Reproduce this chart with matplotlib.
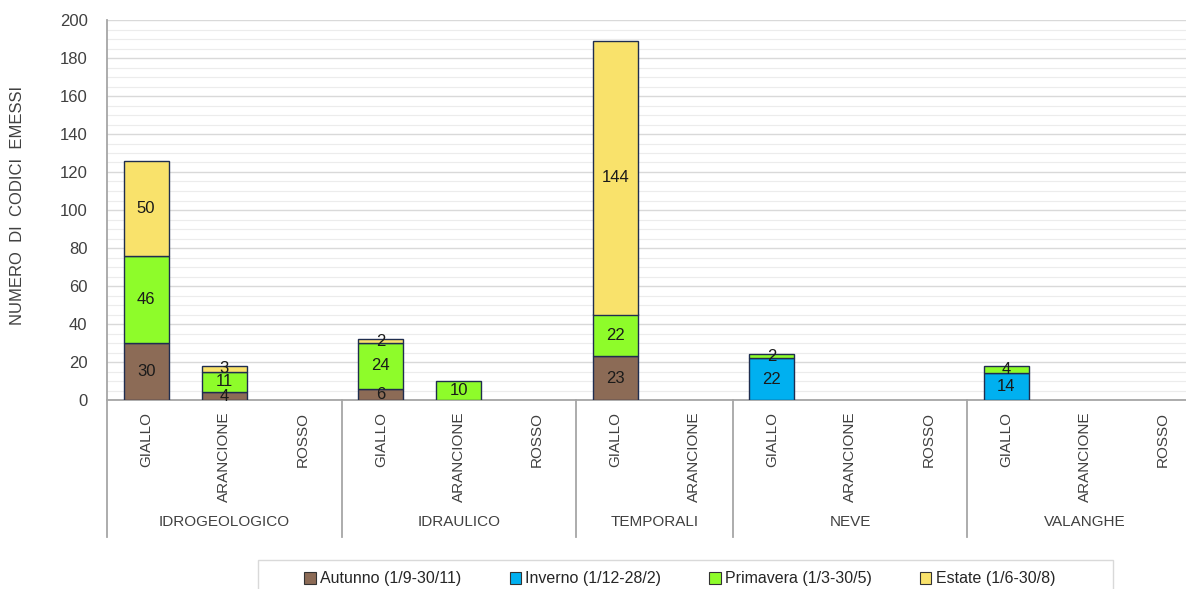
import matplotlib
matplotlib.use("Agg")
import matplotlib.pyplot as plt
from matplotlib.patches import Patch, Rectangle
from matplotlib.lines import Line2D
import numpy as np

plt.rcParams['font.family'] = ['Liberation Sans Narrow', 'Liberation Sans', 'DejaVu Sans']

groups = ["IDROGEOLOGICO", "IDRAULICO", "TEMPORALI", "NEVE", "VALANGHE"]
group_levels = [["GIALLO", "ARANCIONE", "ROSSO"],
                ["GIALLO", "ARANCIONE", "ROSSO"],
                ["GIALLO", "ARANCIONE"],
                ["GIALLO", "ARANCIONE", "ROSSO"],
                ["GIALLO", "ARANCIONE", "ROSSO"]]

series_names = ["Autunno (1/9-30/11)", "Inverno (1/12-28/2)",
                "Primavera (1/3-30/5)", "Estate (1/6-30/8)"]
autunno   = [30, 4, 0, 6, 0, 0, 23, 0, 0, 0, 0, 0, 0, 0]
inverno   = [0, 0, 0, 0, 0, 0, 0, 0, 22, 0, 0, 14, 0, 0]
primavera = [46, 11, 0, 24, 10, 0, 22, 0, 2, 0, 0, 4, 0, 0]
estate    = [50, 3, 0, 2, 0, 0, 144, 0, 0, 0, 0, 0, 0, 0]
colors = ["#8c6b56", "#00b0f0", "#8efc2a", "#f9e26b"]

series = [autunno, inverno, primavera, estate]
labels = [l for g in group_levels for l in g]
n = len(labels)
x = np.arange(n)

W, H = 1186, 589
fig = plt.figure(figsize=(W / 100, H / 100), dpi=100)
left = 107 / W
right = 1202 / W
bottom = 1 - 400 / H
top = 1 - 20 / H
ax = fig.add_axes([left, bottom, right - left, top - bottom])

ax.set_xlim(-0.5, n - 0.5)
ax.set_ylim(0, 200)

# gridlines
for v in np.arange(0, 201, 5):
    if v % 20 == 0:
        ax.axhline(v, color="#d9d9d9", lw=1.0, zorder=0)
    else:
        ax.axhline(v, color="#ececec", lw=0.8, zorder=0)

bottoms = np.zeros(n)
for vals, col in zip(series, colors):
    vals = np.array(vals, dtype=float)
    m = vals > 0
    ax.bar(x[m], vals[m], width=0.575, bottom=bottoms[m], color=col,
           edgecolor="#1f2d4f", linewidth=1.0, zorder=3)
    for i, v in enumerate(vals):
        if v > 0:
            ax.text(x[i], bottoms[i] + v / 2, f"{int(v)}", ha="center", va="center",
                    fontsize=12, color="#1a1a1a", zorder=4)
    bottoms += vals

ax.set_yticks(np.arange(0, 201, 20))
ax.tick_params(axis="y", length=0, labelsize=12, labelcolor="#404040", pad=14)
ax.set_xticks([])
for s in ["top", "right", "left"]:
    ax.spines[s].set_visible(False)
ax.spines["bottom"].set_color("#a6a6a6")
ax.spines["bottom"].set_linewidth(1.3)

# category labels and group separators
trans = ax.get_xaxis_transform()
y_bottom_line = -(537 - 400) / (400 - 20)
pos = 0
seps = [-0.5]
for g, lv in zip(groups, group_levels):
    for j, l in enumerate(lv):
        ax.text(pos + j, -12 / 380, l, rotation=90, ha="center", va="top",
                transform=trans, fontsize=11, color="#404040", clip_on=False)
    center = pos + (len(lv) - 1) / 2
    ax.text(center, -(522 - 400) / 380, g, ha="center", va="center",
            transform=trans, fontsize=11, color="#404040", clip_on=False)
    pos += len(lv)
    seps.append(pos - 0.5)
for s in seps:
    ax.add_line(Line2D([s, s], [0 if s != -0.5 else 1, y_bottom_line],
                       transform=trans, color="#a6a6a6", lw=1.3, clip_on=False))

fig.text(18 / W, 1 - 205 / H, "NUMERO  DI  CODICI  EMESSI", rotation=90,
         ha="center", va="center", fontsize=12, color="#404040")

# legend frame
fig.add_artist(Rectangle((258 / W, -0.05), (1113 - 258) / W, 0.05 + (589 - 560) / H,
                         transform=fig.transFigure, facecolor="white",
                         edgecolor="#d9d9d9", linewidth=1.0, zorder=1))
handles = [Patch(facecolor=c, edgecolor="#333333", linewidth=0.8) for c in colors]
leg = fig.legend(handles, series_names, ncol=4, loc="center",
                 bbox_to_anchor=(680 / W, 1 - 579 / H), frameon=False,
                 fontsize=11.5, handlelength=0.7, handleheight=0.7,
                 handletextpad=0.3, columnspacing=3.0, borderpad=0.0)
leg.set_zorder(2)
for t in leg.get_texts():
    t.set_color("#262626")

fig.savefig("out.png", dpi=100)
